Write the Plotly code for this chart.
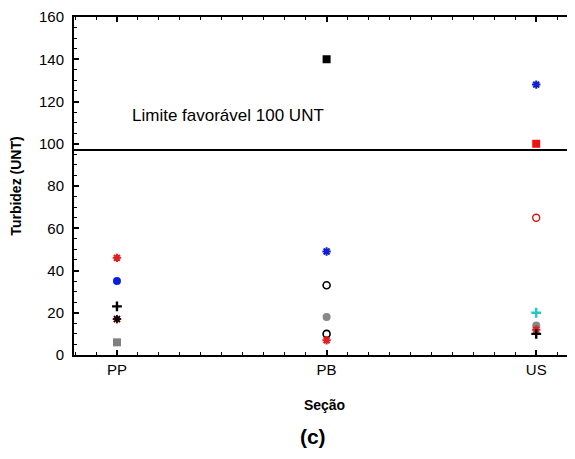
import plotly.graph_objects as go

categories = ["PP", "PB", "US"]
cat_pos = [1, 2, 3]

# each series: values per point (category, value)
red_asterisk_x = ["PP", "PP", "PB", "US"]
red_asterisk_y = [46, 17, 7, 12]
blue_circle_x = ["PP"]
blue_circle_y = [35]
black_plus_x = ["PP", "US"]
black_plus_y = [23, 10]
black_asterisk_x = ["PP"]
black_asterisk_y = [17]
gray_square_x = ["PP"]
gray_square_y = [6]
black_square_x = ["PB"]
black_square_y = [140]
blue_asterisk_x = ["PB", "US"]
blue_asterisk_y = [49, 128]
black_open_circle_x = ["PB", "PB"]
black_open_circle_y = [33, 10]
gray_circle_x = ["PB", "US"]
gray_circle_y = [18, 14]
red_square_x = ["US"]
red_square_y = [100]
red_open_circle_x = ["US"]
red_open_circle_y = [65]
cyan_plus_x = ["US"]
cyan_plus_y = [20]

limit_value = 97
limit_label = "Limite favorável 100 UNT"

pos = dict(zip(categories, cat_pos))

fig = go.Figure()

def add(xs, ys, symbol, color, size, lw=0, lcolor=None):
    fig.add_trace(go.Scatter(
        x=[pos[c] for c in xs], y=ys, mode="markers",
        marker=dict(symbol=symbol, color=color, size=size,
                    line=dict(width=lw, color=lcolor or color)),
        showlegend=False, cliponaxis=False))

add(gray_square_x, gray_square_y, "square", "#808080", 8)
add(black_square_x, black_square_y, "square", "#000000", 8)
add(red_square_x, red_square_y, "square", "#ee1111", 8)
add(blue_circle_x, blue_circle_y, "circle", "#0a1ee0", 8)
add(gray_circle_x, gray_circle_y, "circle", "#888888", 8)
add(black_open_circle_x, black_open_circle_y, "circle-open", "#000000", 7, 1.6)
add(red_open_circle_x, red_open_circle_y, "circle-open", "#e01010", 7, 1.4)
add(red_asterisk_x, red_asterisk_y, "asterisk-open", "#e02020", 7, 2)
add(black_asterisk_x, black_asterisk_y, "asterisk-open", "#000000", 7, 1.5)
add(blue_asterisk_x, blue_asterisk_y, "asterisk-open", "#1020d0", 7, 2)
add(black_plus_x, black_plus_y, "cross-thin-open", "#000000", 7, 2.4)
add(cyan_plus_x, cyan_plus_y, "cross-thin-open", "#20c8c8", 7, 2.4)

fig.add_shape(type="line", xref="paper", yref="y", x0=0, x1=1,
              y0=limit_value, y1=limit_value, line=dict(color="black", width=2))
fig.add_annotation(xref="paper", yref="y", x=0.112, y=113.5, text=limit_label,
                   showarrow=False, xanchor="left", yanchor="middle",
                   font=dict(size=17, color="black"))

font = "Arial, Liberation Sans, sans-serif"
fig.update_layout(
    width=575, height=459,
    margin=dict(l=66, r=8, t=9, b=112, autoexpand=False),
    plot_bgcolor="white", paper_bgcolor="white",
    font=dict(family=font, color="black"),
    title=dict(text="<b>(c)</b>", x=0.53, xanchor="center", y=1 - 429 / 459,
               yanchor="middle", font=dict(size=21, family=font)),
    xaxis=dict(range=[0.795, 3.185], tickvals=cat_pos, ticktext=categories,
               automargin=False,
               ticks="inside", ticklen=5, tickwidth=1.5, tickcolor="black",
               showline=True, linecolor="black", linewidth=2, mirror="allticks",
               showgrid=False, zeroline=False,
               tickfont=dict(size=15), ticklabeloverflow="allow",
               minor=dict(dtick=0.1, tick0=1, ticks="inside", ticklen=3,
                          tickcolor="black", tickwidth=1),
               title=dict(text="<b>Seção</b>", font=dict(size=14), standoff=23)),
    yaxis=dict(range=[0, 160], dtick=20, tick0=0,
               automargin=False,
               ticks="inside", ticklen=5, tickwidth=1.5, tickcolor="black",
               showline=True, linecolor="black", linewidth=2, mirror=False,
               showgrid=False, zeroline=False,
               tickfont=dict(size=15), ticklabelstandoff=5,
               ticklabeloverflow="allow",
               minor=dict(dtick=5, ticks="inside", ticklen=3,
                          tickcolor="black", tickwidth=1),
               title=dict(text="<b>Turbidez (UNT)</b>", font=dict(size=14), standoff=20)),
)

fig.write_html("out.html")
